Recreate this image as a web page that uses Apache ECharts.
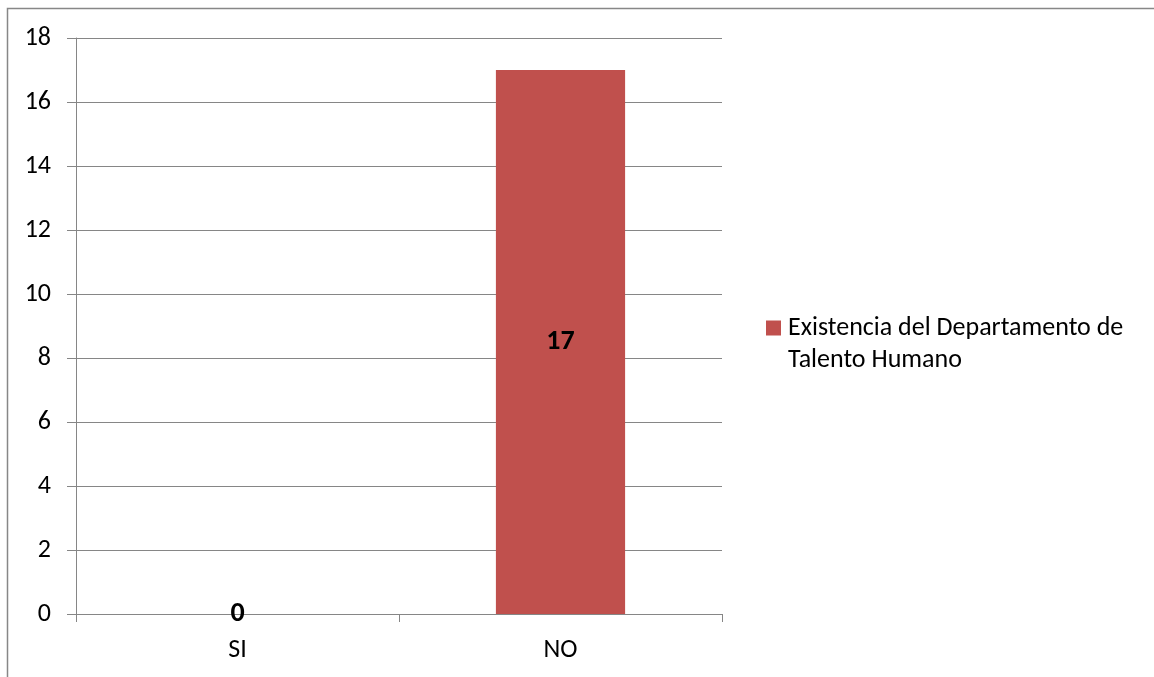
<!DOCTYPE html>
<html>
<head>
<meta charset="utf-8">
<script src="https://cdn.jsdelivr.net/npm/echarts@6/dist/echarts.min.js"></script>
<style>
  html, body { margin: 0; padding: 0; background: #fff; }
  #chart { width: 1154px; height: 677px; }
</style>
</head>
<body>
<div id="chart"></div>
<script>
// Respuestas a la pregunta sobre el departamento
const categories = ['SI', 'NO'];
const seriesName = 'Existencia del Departamento de Talento Humano';
const values = [0, 17];
const yMin = 0, yMax = 18, yStep = 2;

const FONT = "'Carlito', 'Liberation Sans Narrow', 'Noto Sans', sans-serif";
const LEGEND_LINE = 32;
const ICON_W = 17;

// Legend marker: 15px square beside the first text line; the tiny end points stretch
// the path bounds to the full two-line height of the legend text.
const H = 2 * LEGEND_LINE;
const legendIcon = 'path://M0,0L0.01,0M0,8.5L15,8.5L15,23.5L0,23.5Z' +
  'M' + ICON_W + ',' + H + 'L' + (ICON_W - 0.01) + ',' + H;

const chart = echarts.init(document.getElementById('chart'));
chart.setOption({
  backgroundColor: '#ffffff',
  animation: false,
  textStyle: { fontFamily: FONT },
  graphic: [{
    type: 'rect',
    shape: { x: 7.5, y: 8.5, width: 1300, height: 900 },
    style: { fill: 'none', stroke: '#878787', lineWidth: 1.5 },
    silent: true
  }],
  grid: { left: 76, top: 38, right: 432, bottom: 63, containLabel: false },
  legend: {
    left: 766, top: 312, padding: 0,
    orient: 'vertical',
    icon: legendIcon, itemWidth: ICON_W, itemHeight: H,
    textStyle: {
      fontFamily: FONT, fontSize: 26, color: '#000',
      width: 362, overflow: 'break', lineHeight: LEGEND_LINE
    },
    data: [seriesName]
  },
  xAxis: {
    type: 'category',
    data: categories,
    axisLine: { lineStyle: { color: '#868686', width: 1 } },
    axisTick: { show: true, length: 8, lineStyle: { color: '#868686' } },
    axisLabel: { color: '#000', fontSize: 26, margin: 23, fontFamily: FONT }
  },
  yAxis: {
    type: 'value',
    min: yMin, max: yMax, interval: yStep,
    axisLine: { show: true, lineStyle: { color: '#868686', width: 1 } },
    axisTick: { show: true, length: 9, lineStyle: { color: '#868686' } },
    axisLabel: { color: '#000', fontSize: 26, margin: 25, fontFamily: FONT },
    splitLine: { lineStyle: { color: '#868686', width: 1 } }
  },
  series: [{
    name: seriesName,
    type: 'bar',
    data: values,
    barWidth: '40%',
    itemStyle: { color: '#C0504D' },
    label: {
      show: true, position: 'inside',
      color: '#000', fontWeight: 'bold', fontSize: 28, fontFamily: FONT
    }
  }]
});
</script>
</body>
</html>
